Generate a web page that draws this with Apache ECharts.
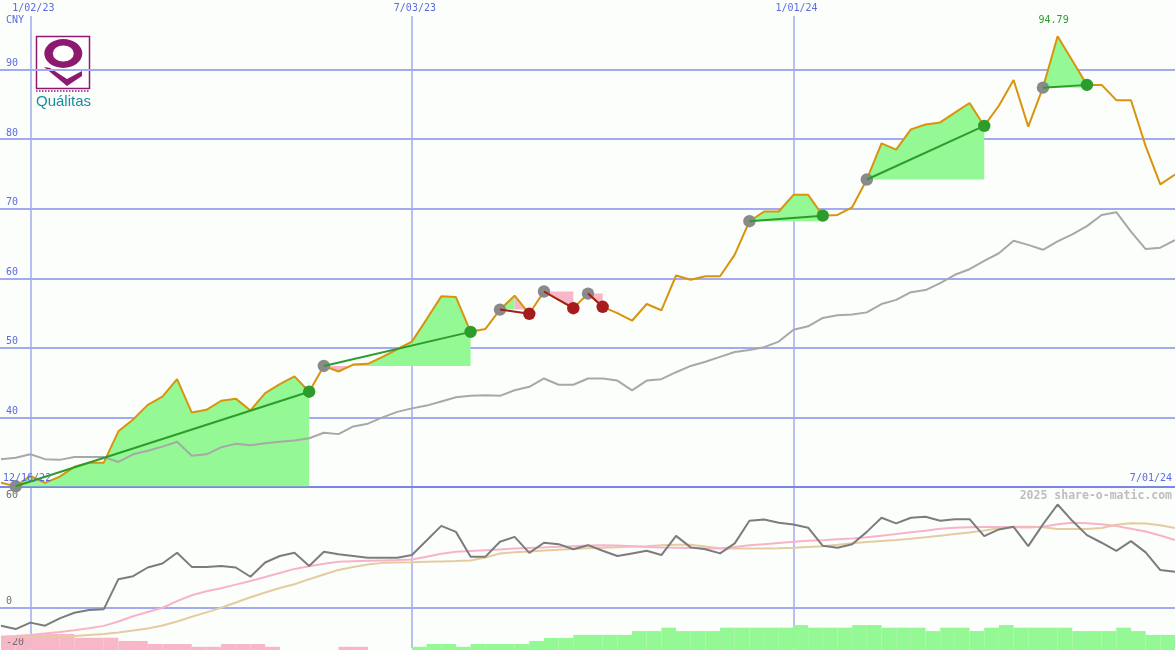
<!DOCTYPE html>
<html><head><meta charset="utf-8">
<script src="https://cdn.jsdelivr.net/npm/echarts@6/dist/echarts.min.js"></script>
<style>html,body{margin:0;padding:0;background:#fcfefc}#c{width:1175px;height:650px}</style>
</head><body><div id="c"></div><script>
// ---- data (weekly) ----
const firstWeek = '2022-12-19';
const axisOrigin = '2023-01-02';
const price = [
  30.6, 30.1, 31.6, 30.6, 31.5, 32.9, 33.5, 33.5, 38.0, 39.7,
  41.8, 43.0, 45.5, 40.7, 41.1, 42.4, 42.7, 41.0, 43.5, 44.8,
  45.9, 43.7, 47.4, 46.6, 47.6, 47.7, 48.7, 49.8, 50.9, 54.1,
  57.4, 57.3, 52.3, 52.7, 55.5, 57.5, 54.9, 58.1, 56.9, 55.7,
  57.8, 55.9, 55.0, 53.9, 56.3, 55.4, 60.4, 59.8, 60.3, 60.3,
  63.4, 68.2, 69.6, 69.6, 72.0, 72.0, 69.0, 69.1, 70.2, 74.2,
  79.4, 78.5, 81.4, 82.1, 82.4, 83.8, 85.2, 81.9, 84.8, 88.5,
  81.8, 87.4, 94.79, 91.3, 87.8, 87.8, 85.6, 85.6, 79.0, 73.5,
  74.9
];
const benchmark = [
  34.0, 34.2, 34.7, 34.0, 33.9, 34.3, 34.3, 34.3, 33.6, 34.7,
  35.2, 35.8, 36.5, 34.5, 34.7, 35.7, 36.2, 36.0, 36.3, 36.5,
  36.7, 37.0, 37.8, 37.6, 38.7, 39.1, 40.0, 40.8, 41.3, 41.7,
  42.3, 42.9, 43.1, 43.2, 43.1, 43.9, 44.4, 45.6, 44.7, 44.7,
  45.6, 45.6, 45.3, 43.9, 45.3, 45.5, 46.5, 47.4, 48.0, 48.7,
  49.4, 49.7, 50.1, 50.9, 52.6, 53.1, 54.3, 54.7, 54.8, 55.1,
  56.3, 56.9, 58.0, 58.3, 59.3, 60.5, 61.3, 62.5, 63.6, 65.4,
  64.8, 64.1, 65.3, 66.3, 67.5, 69.1, 69.5, 66.7, 64.2, 64.4,
  65.5
];
const oscillator = [
  -8.9, -10.6, -7.4, -8.9, -5.3, -2.5, -1.1, -0.8, 14.2, 15.7,
  20.0, 22.0, 27.3, 20.3, 20.3, 20.8, 20.0, 15.4, 22.5, 25.7,
  27.3, 20.7, 27.8, 26.6, 25.7, 24.8, 24.8, 24.8, 26.2, 33.4,
  40.7, 37.7, 25.3, 25.3, 32.8, 35.2, 27.3, 32.3, 31.6, 29.1,
  31.1, 28.3, 25.7, 27.0, 28.3, 26.2, 35.7, 30.0, 29.1, 27.0,
  32.0, 43.2, 43.9, 42.2, 41.4, 39.8, 30.8, 29.8, 31.6, 37.7,
  44.7, 41.9, 44.7, 45.2, 43.2, 44.0, 44.0, 35.6, 38.9, 40.2,
  30.6, 41.4, 51.3, 43.2, 36.1, 32.3, 28.3, 33.1, 27.5, 18.7,
  17.9
];
const oscAvgFast = [
  -14.4, -14.0, -13.5, -12.8, -12.1, -11.2, -10.2, -9.0, -6.8, -4.2,
  -2.1, 0.0, 3.3, 6.2, 8.2, 9.7, 11.5, 13.3, 15.3, 17.3,
  19.3, 20.6, 21.9, 22.9, 23.1, 23.3, 23.5, 23.7, 24.0, 25.3,
  26.8, 27.8, 28.2, 28.6, 29.0, 29.4, 29.7, 30.0, 30.3, 30.6,
  30.9, 31.1, 30.9, 30.5, 30.2, 29.9, 29.8, 29.7, 29.6, 29.5,
  30.2, 31.0, 31.6, 32.2, 32.8, 33.3, 33.6, 34.0, 34.4, 35.0,
  35.8, 36.6, 37.5, 38.3, 39.2, 39.8, 40.0, 40.1, 40.1, 40.0,
  39.9, 40.3, 41.5, 42.2, 42.0, 41.5, 40.6, 39.3, 37.9, 35.9,
  33.6
];
const oscAvgSlow = [
  -14.7, -14.6, -14.5, -14.4, -14.3, -14.0, -13.5, -13.0, -12.3, -11.3,
  -10.3, -8.8, -6.8, -4.5, -2.3, 0.0, 2.6, 5.2, 7.6, 9.8,
  11.7, 14.2, 16.5, 18.8, 20.3, 21.5, 22.3, 22.5, 22.6, 22.8,
  23.0, 23.2, 23.5, 25.0, 27.0, 27.6, 28.0, 28.4, 28.8, 29.2,
  29.6, 29.8, 30.1, 30.4, 30.6, 31.0, 31.3, 31.3, 30.4, 29.6,
  29.5, 29.5, 29.5, 29.6, 29.8, 30.2, 30.6, 31.3, 32.1, 32.7,
  33.2, 33.7, 34.3, 35.0, 35.8, 36.6, 37.4, 38.4, 39.5, 40.2,
  40.2, 40.0, 39.1, 39.1, 39.1, 39.6, 41.2, 42.0, 41.9, 41.0,
  39.6
];
const histogram = [
  -7.0, -7.5, -7.7, -8.0, -8.0, -6.1, -6.1, -6.1, -4.5, -4.5,
  -3.0, -3.0, -3.0, -1.6, -1.6, -3.0, -3.0, -3.0, -1.6, 0,
  0, 0, 0, -1.6, -1.6, 0, 0, 0, 1.6, 3.0,
  3.0, 1.6, 3.0, 3.0, 3.0, 3.0, 4.5, 6.0, 6.0, 7.5,
  7.5, 7.5, 7.5, 9.4, 9.4, 11.1, 9.4, 9.4, 9.4, 11.1,
  11.1, 11.1, 11.1, 11.1, 12.4, 11.1, 11.1, 11.1, 12.4, 12.4,
  11.1, 11.1, 11.1, 9.4, 11.1, 11.1, 9.4, 11.1, 12.4, 11.1,
  11.1, 11.1, 11.1, 9.4, 9.4, 9.4, 11.1, 9.4, 7.5, 7.5,
  7.5
];
// trends: [start week, end week, direction]
const trends = [[1,21,1],[22,32,1],[34,36,-1],[37,39,-1],[40,41,-1],[51,56,1],[59,67,1],[71,74,1]];
const currency = 'CNY';
const startLabel = '12/16/22';
const endLabel = '7/01/24';
const watermark = '2025 share-o-matic.com';
const brand = 'Quálitas';

// ---- helpers ----
const DAY = 86400000;
const originMs = Date.parse(axisOrigin + 'T00:00:00Z');
const firstMs = Date.parse(firstWeek + 'T00:00:00Z');
const dayOf = k => (firstMs - originMs) / DAY + 7 * k;
const pad = n => (n < 10 ? '0' : '') + n;
const fmtDate = v => { const d = new Date(originMs + v * DAY); return (d.getUTCMonth() + 1) + '/' + pad(d.getUTCDate()) + '/' + pad(d.getUTCFullYear() % 100); };
const pairs = arr => arr.map((v, k) => [dayOf(k), v]);

const BLUE = '#5a6be0', GRID = '#a2abf0', BORDER = '#7886ea';
const ORANGE = '#d8940c', GRAYL = '#a8a8a8', DGRAY = '#7c7c7c';
const GFILL = '#94f894', PFILL = '#f8b6c9', GREEN = '#2c9c2c', RED = '#a61c1c', GDOT = '#8a8a8a';
const MONO = 'DejaVu Sans Mono';
const PURPLE = '#8e1a70';

function clampPath(arr, yb, above) {
  const out = [[arr[0][0], yb]];
  for (let i = 0; i < arr.length; i++) {
    const p = arr[i];
    if (i > 0) {
      const q = arr[i - 1];
      if ((q[1] - yb) * (p[1] - yb) < 0) {
        const t = (yb - q[1]) / (p[1] - q[1]);
        out.push([q[0] + t * (p[0] - q[0]), yb]);
      }
    }
    out.push([p[0], above ? Math.min(p[1], yb) : Math.max(p[1], yb)]);
  }
  out.push([arr[arr.length - 1][0], yb]);
  return out;
}
function trendFill(params, api) {
  const s = api.value(0), e = api.value(1), dir = api.value(2);
  const pts = [];
  for (let k = s; k <= e; k++) pts.push(api.coord([dayOf(k), price[k]]));
  const yb = pts[0][1];
  let g = pts.length - 1;
  if (dir < 0) { g = 0; for (let i = 1; i < pts.length; i++) if (pts[i][1] < pts[g][1]) g = i; }
  const rise = pts.slice(0, g + 1), fall = pts.slice(g);
  const poly = (p, c) => ({ type: 'polygon', shape: { points: p }, style: { fill: c } });
  const children = [];
  if (rise.length > 1) {
    children.push(poly(clampPath(rise, yb, true), GFILL));
    children.push(poly(clampPath(rise, yb, false), PFILL));
  }
  if (fall.length > 1) children.push(poly([[fall[0][0], yb]].concat(fall, [[fall[fall.length - 1][0], yb]]), PFILL));
  return { type: 'group', children };
}
function trendMark(params, api) {
  const s = api.value(0), e = api.value(1), dir = api.value(2);
  const a = api.coord([dayOf(s), price[s]]), b = api.coord([dayOf(e), price[e]]);
  const col = dir > 0 ? GREEN : RED;
  return { type: 'group', children: [
    { type: 'circle', shape: { cx: a[0], cy: a[1], r: 6.2 }, style: { fill: GDOT } },
    { type: 'line', shape: { x1: a[0], y1: a[1], x2: b[0], y2: b[1] }, style: { stroke: col, lineWidth: 2 } },
    { type: 'circle', shape: { cx: b[0], cy: b[1], r: 6.2 }, style: { fill: col } }
  ] };
}

const xBase = { type: 'value', min: -182, max: 546, interval: 182 };
const gridL = -351.2;
const transparent = 'rgba(0,0,0,0)';

const option = {
  backgroundColor: '#fcfefc',
  animation: false,
  grid: [
    { left: gridL, right: 0, top: 16, height: 471, outerBoundsMode: 'none', containLabel: false },
    { left: gridL, right: 0, top: 487, height: 161, outerBoundsMode: 'none', containLabel: false },
    { left: gridL, right: 0, top: 487, height: 163, outerBoundsMode: 'none', containLabel: false }
  ],
  xAxis: [
    Object.assign({}, xBase, { gridIndex: 0, position: 'top',
      axisLine: { show: false }, axisTick: { show: false },
      axisLabel: { margin: 3, color: BLUE, fontFamily: MONO, fontSize: 10, showMinLabel: false, showMaxLabel: false, formatter: fmtDate, padding: [0, 0, 0, 6] },
      splitLine: { show: true, showMinLine: false, showMaxLine: false, lineStyle: { color: GRID, width: 1.5 } } }),
    Object.assign({}, xBase, { gridIndex: 1, position: 'top',
      axisLine: { show: true, onZero: false, lineStyle: { color: BORDER, width: 2 } }, axisTick: { show: false },
      axisLabel: { show: false },
      splitLine: { show: true, showMinLine: false, showMaxLine: false, lineStyle: { color: GRID, width: 1.5 } } }),
    Object.assign({}, xBase, { gridIndex: 2, show: false })
  ],
  yAxis: [
    { type: 'value', gridIndex: 0, min: 30, max: 97.7, interval: 10, position: 'left', offset: gridL,
      axisLine: { show: false }, axisTick: { show: false },
      axisLabel: { inside: true, margin: 6, verticalAlign: 'bottom', color: BLUE, fontFamily: MONO, fontSize: 10, showMinLabel: false, showMaxLabel: false, padding: [0, 0, 1, 0] },
      splitLine: { show: true, showMinLine: false, showMaxLine: false, lineStyle: { color: GRID, width: 2 } } },
    { type: 'value', gridIndex: 1, min: -20, max: 60, interval: 20, position: 'left', offset: gridL, z: 2,
      axisLine: { show: false }, axisTick: { show: false },
      axisLabel: { inside: true, margin: 6, verticalAlign: 'middle', color: '#6e6e6e', fontFamily: MONO, fontSize: 10,
        formatter: v => v === 60 ? '{t|60}' : (v === 0 || v === -20 ? '{b|' + v + '}' : ''),
        rich: { t: { padding: [16, 0, 0, 0], color: '#6e6e6e', fontFamily: MONO, fontSize: 10 }, b: { padding: [0, 0, 12, 0], color: '#6e6e6e', fontFamily: MONO, fontSize: 10 } } },
      splitLine: { show: true, lineStyle: { color: [transparent, GRID, transparent, transparent, transparent], width: 2 } } },
    { type: 'value', gridIndex: 2, min: 0, max: 81, show: false }
  ],
  series: [
    { type: 'bar', xAxisIndex: 2, yAxisIndex: 2, barWidth: 14.7, z: 1, silent: true,
      data: histogram.map((h, k) => ({ value: [dayOf(k) + 3.5, Math.abs(h)], itemStyle: { color: h < 0 ? PFILL : GFILL } })) },
    { type: 'custom', xAxisIndex: 0, yAxisIndex: 0, z: 2, silent: true, renderItem: trendFill, data: trends },
    { type: 'line', xAxisIndex: 0, yAxisIndex: 0, z: 3, silent: true, symbol: 'none', data: pairs(benchmark), lineStyle: { color: GRAYL, width: 2 } },
    { type: 'line', xAxisIndex: 0, yAxisIndex: 0, z: 4, silent: true, symbol: 'none', data: pairs(price), lineStyle: { color: ORANGE, width: 2 },
      markPoint: { symbol: 'circle', symbolSize: 1, itemStyle: { color: transparent }, data: [{ type: 'max' }],
        label: { show: true, position: 'top', distance: 10, color: GREEN, fontFamily: MONO, fontSize: 10, offset: [-4, 0], formatter: p => Number(p.value).toFixed(2) } } },
    { type: 'custom', xAxisIndex: 0, yAxisIndex: 0, z: 5, silent: true, renderItem: trendMark, data: trends },
    { type: 'line', xAxisIndex: 1, yAxisIndex: 1, z: 3, silent: true, symbol: 'none', data: pairs(oscAvgSlow), lineStyle: { color: '#e4cc9e', width: 2 } },
    { type: 'line', xAxisIndex: 1, yAxisIndex: 1, z: 3, silent: true, symbol: 'none', data: pairs(oscAvgFast), lineStyle: { color: '#f7b4c8', width: 2 } },
    { type: 'line', xAxisIndex: 1, yAxisIndex: 1, z: 4, silent: true, symbol: 'none', data: pairs(oscillator), lineStyle: { color: DGRAY, width: 2 } }
  ],
  graphic: [
    { type: 'text', left: 6, top: 15, style: { text: currency, fill: BLUE, font: '10px ' + MONO } },
    { type: 'text', left: 3, top: 473, z: 10, style: { text: startLabel, fill: BLUE, font: '10px ' + MONO } },
    { type: 'text', right: 3, top: 473, z: 10, style: { text: endLabel, fill: BLUE, font: '10px ' + MONO } },
    { type: 'text', right: 3, top: 490, z: 10, style: { text: watermark, fill: '#bdbdbd', font: 'bold 11.5px ' + MONO } },
    { type: 'group', x: 0, y: 0, z: 10, children: [
      { type: 'rect', shape: { x: 36.5, y: 36.5, width: 53, height: 52 }, style: { fill: '#ffffff', stroke: PURPLE, lineWidth: 1.5 } },
      { type: 'polygon', shape: { points: [[44, 67], [50, 68], [67, 79], [82, 71], [82, 76], [67, 86]] }, style: { fill: PURPLE } },
      { type: 'ring', x: 63.3, y: 53.5, scaleY: 0.76, shape: { cx: 0, cy: 0, r: 19, r0: 10.5 }, style: { fill: PURPLE } },
      { type: 'line', shape: { x1: 36, y1: 91, x2: 90, y2: 91 }, style: { stroke: PURPLE, lineWidth: 1.5, lineDash: [1.5, 1.5] } },
      { type: 'text', x: 36, y: 94, style: { text: brand, fill: '#1b8ca0', font: '15px "Liberation Sans"' } }
    ] }
  ]
};
echarts.init(document.getElementById('c')).setOption(option);
</script></body></html>
